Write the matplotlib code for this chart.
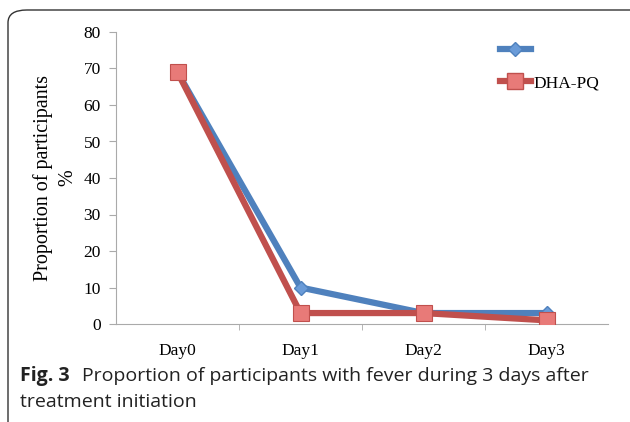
import numpy as np
import matplotlib.pyplot as plt
from matplotlib.patches import FancyBboxPatch
from matplotlib.lines import Line2D

days = ['Day0', 'Day1', 'Day2', 'Day3']
blue_vals = [69, 10, 3, 3]
dha_pq = [69, 3, 3, 1]

W, H = 630, 422
fig = plt.figure(figsize=(W / 100, H / 100), dpi=100)

# rounded frame around figure
frame = FancyBboxPatch((8 / W, -0.2), 1.2, 1.2 - 10 / H,
                       boxstyle='round,pad=0,rounding_size=0.03',
                       transform=fig.transFigure, fill=False,
                       edgecolor='#333333', linewidth=1.0, clip_on=False)
fig.patches.append(frame)

ax = fig.add_axes([116 / W, 1 - 324 / H, (608 - 116) / W, (324 - 32) / H])
x = np.arange(len(days))
ax.plot(x, blue_vals, color='#4F81BD', linewidth=4.5, marker='D', markersize=7,
        markerfacecolor='#6A9BD8', markeredgecolor='#4F81BD', zorder=3)
ax.plot(x, dha_pq, color='#C0504D', linewidth=4.5, marker='s', markersize=12,
        markerfacecolor='#E87A78', markeredgecolor='#C0504D', markeredgewidth=0.8, zorder=4)

ax.set_xlim(-0.5, 3.5)
ax.set_ylim(0, 80)
ax.set_yticks(range(0, 81, 10))
ax.set_xticks(x)
ax.set_xticklabels(days)
ax.set_xticks(np.arange(0.5, 3.5, 1), minor=True)
ax.tick_params(axis='x', which='major', length=0, pad=14)
ax.tick_params(axis='x', which='minor', length=4, direction='out', color='#AAAAAA')
ax.tick_params(axis='y', length=5, direction='out', color='#AAAAAA', pad=6)
for lab in ax.get_xticklabels() + ax.get_yticklabels():
    lab.set_fontfamily('Liberation Serif')
    lab.set_fontsize(12.5)
for s in ['top', 'right']:
    ax.spines[s].set_visible(False)
ax.spines['left'].set_color('#AAAAAA')
ax.spines['bottom'].set_color('#AAAAAA')

ax.set_ylabel('Proportion of participants\n%', fontfamily='Liberation Serif',
              fontsize=14.5, linespacing=1.4, labelpad=4)

# legend
handles = [Line2D([], [], color='#4F81BD', linewidth=4.5, marker='D', markersize=7,
                  markerfacecolor='#6A9BD8', markeredgecolor='#4F81BD'),
           Line2D([], [], color='#C0504D', linewidth=4.5, marker='s', markersize=11,
                  markerfacecolor='#E87A78', markeredgecolor='#C0504D')]
leg = fig.legend(handles, ['', 'DHA-PQ'], loc='upper left',
                 bbox_to_anchor=(484 / W, 1 - 27 / H),
                 frameon=False, handlelength=1.8, handletextpad=0.15, labelspacing=0.95,
                 prop={'family': 'Liberation Serif', 'size': 12.5})

cap_y = 1 - 376 / H
fig.text(20 / W, cap_y, 'Fig. 3', fontsize=14, va='center', fontfamily='Open Sans',
         fontweight='bold', color='#222222')
fig.text(82 / W, cap_y, 'Proportion of participants with fever during 3 days after',
         fontsize=14, va='center', fontfamily='Open Sans', color='#222222')
fig.text(20 / W, 1 - 402 / H, 'treatment initiation', fontsize=14, va='center',
         fontfamily='Open Sans', color='#222222')

fig.savefig('out.png', dpi=100)
